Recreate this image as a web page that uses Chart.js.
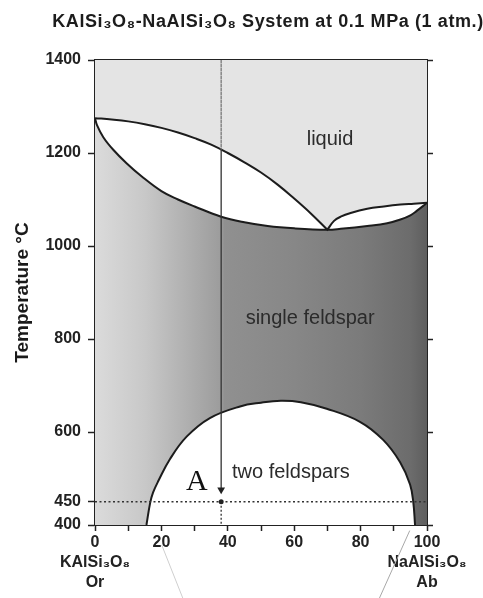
<!DOCTYPE html>
<html>
<head>
<meta charset="utf-8">
<script src="https://cdn.jsdelivr.net/npm/chart.js@4.4.1/dist/chart.umd.min.js"></script>
<style>
  body { margin: 0; background: #fff; }
  #wrap { width: 483px; height: 598px; }
</style>
</head>
<body>
<div id="wrap"><canvas id="phase" width="483" height="598"></canvas></div>
<script>
// Or-Ab binary at 0.1 MPa: composition (wt% Ab) vs temperature (°C)
const liqLeftX = [0, 5, 10, 15, 20, 25, 30, 35, 40, 45, 50, 55, 60, 65, 70];
const liqLeftT = [1275, 1272, 1268, 1262, 1254, 1244, 1232, 1218, 1200, 1180, 1158, 1132, 1102, 1070, 1035];
const liqRightX = [70, 72, 74, 77, 82, 87, 92, 96, 100];
const liqRightT = [1035, 1054, 1063, 1071, 1080, 1085, 1089, 1091, 1093];

const solidusX = [0, 0.6, 2.5, 5.5, 9.5, 14, 20, 25, 30, 38, 45, 52, 60, 70, 74, 82, 88, 92, 95, 97, 99, 100];
const solidusT = [1275, 1260, 1234, 1207, 1178, 1150, 1118, 1100, 1085, 1063, 1051, 1043, 1038, 1035, 1037, 1043, 1049, 1057, 1066, 1076, 1087, 1093];

const solvusX = [15.5, 16.6, 17.5, 19.1, 22.6, 27.6, 34.6, 43.7, 50, 56, 62, 69.8, 79.8, 86.8, 91.9, 94.9, 95.9, 96.4];
const solvusT = [400, 447, 470, 495, 542, 590, 630, 655, 663, 667, 664, 650, 622, 583, 535, 487, 447, 400];

// cooling path of bulk composition A
const pathX = 38;
const pathT = [1400, 1207, 476];
const pathLowT = [450, 400];
const isothermT = 450;

// stray lines from the scan below the axis
const strayLeftX = [20.1, 26.6];
const strayLeftT = [357, 240];
const strayRightX = [94.8, 85.5];
const strayRightT = [388, 240];

const xTickValues = [0, 10, 20, 30, 40, 50, 60, 70, 80, 90, 100];
const xTickText = {
  0: ['0', 'KAlSi₃O₈', 'Or'], 20: '20', 40: '40', 60: '60', 80: '80',
  100: ['100', 'NaAlSi₃O₈', 'Ab']
};
const yTickValues = [400, 450, 600, 800, 1000, 1200, 1400];
const yRightTicks = [400, 600, 800, 1000, 1200, 1400];

const chartTitle = 'KAlSi₃O₈-NaAlSi₃O₈ System at 0.1 MPa (1 atm.)';
const regionLabels = [
  { text: 'liquid', x: 70.8, t: 1228 },
  { text: 'single feldspar', x: 64.8, t: 845 },
  { text: 'two feldspars', x: 59, t: 514 },
  { text: 'A', x: 30.7, t: 492, serif: true }
];

const pts = (xs, ts) => xs.map((x, i) => ({ x: x, y: ts[i] }));
const vline = (x, ts) => ts.map(t => ({ x: x, y: t }));
// left and right branches share the cusp point, which keeps the corner sharp
const liquidus = pts(liqLeftX, liqLeftT).concat(pts(liqRightX, liqRightT));

const ink = '#1c1c1c';
const sansFont = '"Liberation Sans", Arial, sans-serif';
Chart.defaults.font.family = sansFont;

function feldsparShade(ctx) {
  const area = ctx.chart.chartArea;
  if (!area) return '#999';
  const g = ctx.chart.ctx.createLinearGradient(area.left, 0, area.right, 0);
  g.addColorStop(0, '#dbdbdb');
  g.addColorStop(0.15, '#c8c8c8');
  g.addColorStop(0.3, '#ababab');
  g.addColorStop(0.38, '#9c9c9c');
  g.addColorStop(0.39, '#909090');
  g.addColorStop(0.6, '#878787');
  g.addColorStop(0.8, '#7b7b7b');
  g.addColorStop(0.95, '#6c6c6c');
  g.addColorStop(1, '#5e5e5e');
  return g;
}

const annotations = {
  id: 'annotations',
  afterDatasetsDraw(chart) {
    const { ctx, scales: { x, y } } = chart;
    ctx.save();
    ctx.fillStyle = ink;
    ctx.textAlign = 'center';
    ctx.textBaseline = 'middle';
    ctx.font = 'bold 18px ' + sansFont;
    ctx.letterSpacing = '0.6px';
    ctx.fillText(chartTitle, 268, 22);
    ctx.letterSpacing = '0px';
    regionLabels.forEach(l => {
      ctx.fillStyle = l.serif ? '#111' : '#2b2b2b';
      ctx.font = l.serif ? '30px "Liberation Serif", serif' : '20px ' + sansFont;
      ctx.fillText(l.text, x.getPixelForValue(l.x), y.getPixelForValue(l.t));
    });
    ctx.restore();
  }
};

const tickFont = { size: 16, weight: 'bold', lineHeight: 1.25 };

new Chart(document.getElementById('phase'), {
  type: 'line',
  data: {
    datasets: [
      {
        data: vline(pathX, pathT),
        borderColor: '#333',
        borderWidth: 1.3,
        segment: {
          borderDash: c => c.p0DataIndex === 0 ? [2, 2] : undefined,
          borderColor: c => c.p0DataIndex === 0 ? '#777' : '#333'
        },
        pointRadius: c => c.dataIndex === 2 ? 4.5 : 0,
        pointStyle: 'triangle',
        rotation: 180,
        pointBackgroundColor: '#222',
        pointBorderWidth: 0,
        fill: false
      },
      {
        data: vline(pathX, pathLowT),
        borderColor: '#333',
        borderWidth: 1.3,
        borderDash: [2, 2],
        pointRadius: c => c.dataIndex === 0 ? 2.5 : 0,
        pointBackgroundColor: '#222',
        pointBorderWidth: 0,
        fill: false
      },
      {
        data: [{ x: 0, y: isothermT }, { x: 100, y: isothermT }],
        borderColor: '#333',
        borderWidth: 1.5,
        borderDash: [2, 2.5],
        pointRadius: 0,
        fill: false
      },
      {
        data: pts(solvusX, solvusT),
        borderColor: ink,
        borderWidth: 2,
        pointRadius: 0,
        tension: 0.4,
        backgroundColor: '#ffffff',
        fill: 'start'
      },
      {
        data: liquidus,
        borderColor: ink,
        borderWidth: 2,
        pointRadius: 0,
        tension: 0.4,
        backgroundColor: '#e4e4e4',
        fill: 'end'
      },
      {
        data: pts(solidusX, solidusT),
        borderColor: ink,
        borderWidth: 2,
        pointRadius: 0,
        tension: 0.4,
        backgroundColor: feldsparShade,
        fill: 'start'
      },
      {
        data: pts(strayLeftX, strayLeftT),
        borderColor: '#cfcfcf',
        borderWidth: 1,
        pointRadius: 0,
        fill: false,
        clip: false
      },
      {
        data: pts(strayRightX, strayRightT),
        borderColor: '#a8a8a8',
        borderWidth: 1,
        pointRadius: 0,
        fill: false,
        clip: false
      }
    ]
  },
  options: {
    responsive: false,
    devicePixelRatio: 1,
    animation: false,
    events: [],
    layout: { padding: { top: 60, right: 50, bottom: 0, left: 0 } },
    plugins: {
      legend: { display: false },
      tooltip: { enabled: false }
    },
    scales: {
      x: {
        type: 'linear',
        min: 0,
        max: 100,
        afterBuildTicks: s => { s.ticks = xTickValues.map(v => ({ value: v })); },
        afterFit: s => { s.height = 73; },
        ticks: {
          autoSkip: false,
          maxRotation: 0,
          padding: 2,
          color: '#222',
          font: tickFont,
          callback: v => xTickText[v] ?? ''
        },
        grid: { drawOnChartArea: false, tickLength: 6, tickWidth: 1.5, tickColor: '#222' },
        border: { color: '#222', width: 2 }
      },
      xTop: {
        type: 'linear',
        position: 'top',
        min: 0,
        max: 100,
        afterFit: s => { s.height = 0; },
        ticks: { display: false },
        grid: { display: false },
        border: { color: '#222', width: 2.5 }
      },
      y: {
        min: 400,
        max: 1400,
        afterBuildTicks: s => { s.ticks = yTickValues.map(v => ({ value: v })); },
        afterFit: s => { s.width = 95; },
        ticks: {
          autoSkip: false,
          padding: 7,
          color: '#222',
          font: tickFont,
          callback: v => String(v)
        },
        grid: { drawOnChartArea: false, tickLength: 7, tickWidth: 1.5, tickColor: '#222' },
        border: { color: '#222', width: 2 },
        title: {
          display: true,
          text: 'Temperature °C',
          color: '#1a1a1a',
          font: { size: 19, weight: 'bold' },
          padding: { top: 11, bottom: 0 }
        }
      },
      yR: {
        position: 'right',
        min: 400,
        max: 1400,
        afterBuildTicks: s => { s.ticks = yRightTicks.map(v => ({ value: v })); },
        afterFit: s => { s.width = 6; },
        ticks: { display: false },
        grid: { drawOnChartArea: false, tickLength: 6, tickWidth: 1.5, tickColor: '#222' },
        border: { color: '#222', width: 2 }
      }
    }
  },
  plugins: [annotations]
});
</script>
</body>
</html>
